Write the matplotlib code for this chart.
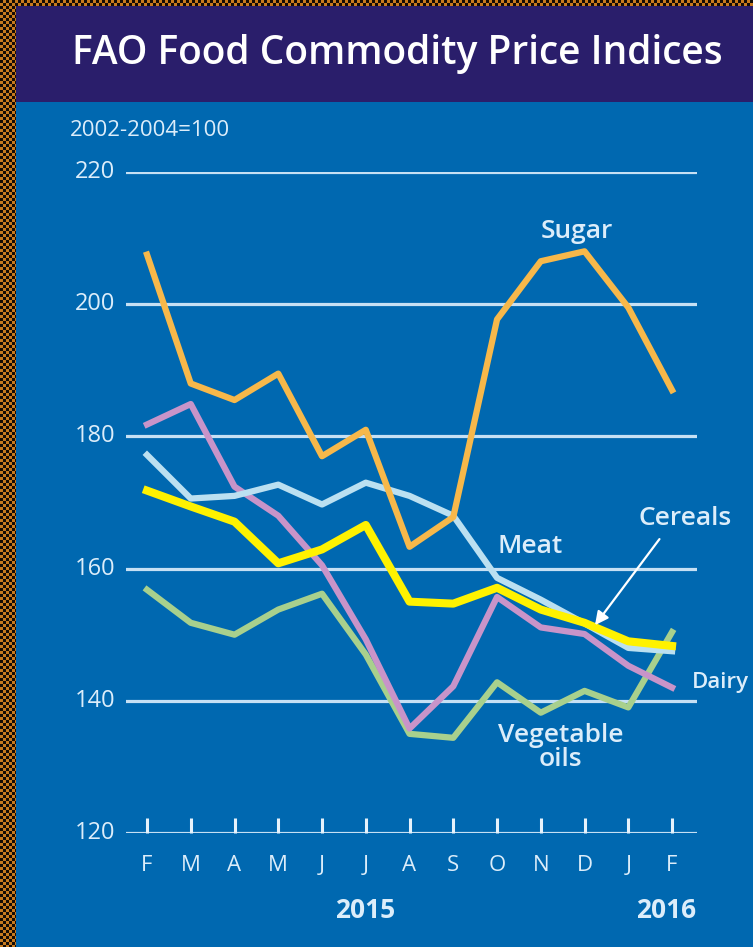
import numpy as np
import matplotlib.pyplot as plt
from matplotlib.patches import Rectangle

months = ["F", "M", "A", "M", "J", "J", "A", "S", "O", "N", "D", "J", "F"]
yticks = [120, 140, 160, 180, 200, 220]

sugar = [207.5, 188, 185.5, 189.5, 177, 181, 163.3, 167.8, 197.7, 206.5, 208, 199.5, 187]
meat = [177.2, 170.6, 171, 172.7, 169.7, 173, 171, 168, 158.6, 155.3, 151.7, 148, 147.5]
cereals = [171.8, 169.4, 167.1, 160.8, 162.9, 166.6, 155, 154.7, 157.1, 153.8, 151.8, 149, 148.3]
dairy = [181.8, 184.9, 172.4, 168, 160.5, 149.3, 135.8, 142.2, 155.7, 151.1, 150.1, 145.3, 142]
veg_oils = [156.8, 151.8, 150, 153.8, 156.2, 147, 135, 134.4, 142.8, 138.2, 141.5, 139, 150.4]

bg = "#0068b0"
txt = "#dcedfa"
font = "Open Sans"
x = list(range(len(months)))

fig = plt.figure(figsize=(7.53, 9.47), dpi=100)
fig.patch.set_facecolor(bg)

# checkered frame on the left and top edges
def checker(h, w):
    yy, xx = np.mgrid[0:h, 0:w]
    cells = ((yy // 3 + xx // 3) % 2)[..., None]
    orange = np.array([0.78, 0.48, 0.12])
    black = np.array([0.08, 0.05, 0.02])
    return cells * orange + (1 - cells) * black

fig.figimage(checker(947, 16), xo=0, yo=0, zorder=0)
fig.figimage(checker(6, 753), xo=0, yo=941, zorder=0)
fig.patches.append(Rectangle((16 / 753, 1 - 102 / 947), 1, 96 / 947, transform=fig.transFigure,
                             facecolor="#2a1e6b", lw=0))
fig.text(0.528, 1 - 54 / 947, "FAO Food Commodity Price Indices", color="white",
         fontsize=28, fontfamily=font, fontweight="semibold", ha="center", va="center")
fig.text(70 / 753, 1 - 131 / 947, "2002-2004=100", color=txt, fontsize=16,
         fontfamily=font, ha="left", va="center")

ax = fig.add_axes([126 / 753, 1 - 833 / 947, 571 / 753, 661 / 947])
ax.set_facecolor(bg)
ax.set_xlim(-0.48, 12.57)
ax.set_ylim(120, 220)
for s in ax.spines.values():
    s.set_visible(False)

for v in yticks:
    ax.axhline(v, color="#c6e0f4", lw=2.3, zorder=1)
    ax.text(-0.72, v, str(v), color=txt, fontsize=17, fontfamily=font,
            ha="right", va="center")

ax.set_xticks(x)
ax.set_xticklabels(months, color=txt, fontsize=16, fontfamily=font)
ax.tick_params(axis="x", direction="in", length=11, width=2.2, color="#e6f2fb", pad=16)
ax.set_yticks([])

ax.plot(x, veg_oils, color="#a8d08d", lw=4.5, zorder=3, solid_joinstyle="round")
ax.plot(x, dairy, color="#c894c9", lw=4.5, zorder=4, solid_joinstyle="round")
ax.plot(x, meat, color="#bbe0f1", lw=4.5, zorder=5, solid_joinstyle="round")
ax.plot(x, sugar, color="#f7b84a", lw=4.5, zorder=6, solid_joinstyle="round")
ax.plot(x, cereals, color="#fff200", lw=5.8, zorder=7, solid_joinstyle="round")

lab = dict(color=txt, fontsize=19, fontweight="semibold", fontfamily=font, zorder=8)
ax.text(9.83, 211.0, "Sugar", ha="center", va="center", **lab)
ax.text(8.75, 163.3, "Meat", ha="center", va="center", **lab)
ax.text(12.3, 167.6, "Cereals", ha="center", va="center", **lab)
ax.text(12.45, 142.7, "Dairy", ha="left", va="center", clip_on=False,
        **{**lab, "fontsize": 16})
ax.text(9.45, 133.0, "Vegetable\noils", ha="center", va="center", linespacing=0.95, **lab)
ax.annotate("", xy=(10.2, 151.1), xytext=(11.75, 164.8),
            arrowprops=dict(arrowstyle="-|>", color="white", lw=1.6, mutation_scale=20),
            zorder=8)

fig.text(365 / 753, 1 - 910 / 947, "2015", color=txt, fontsize=19, fontweight="bold",
         fontfamily=font, ha="center", va="center")
fig.text(666 / 753, 1 - 910 / 947, "2016", color=txt, fontsize=19, fontweight="bold",
         fontfamily=font, ha="center", va="center")

fig.savefig("out.png", dpi=100, facecolor=fig.get_facecolor())
